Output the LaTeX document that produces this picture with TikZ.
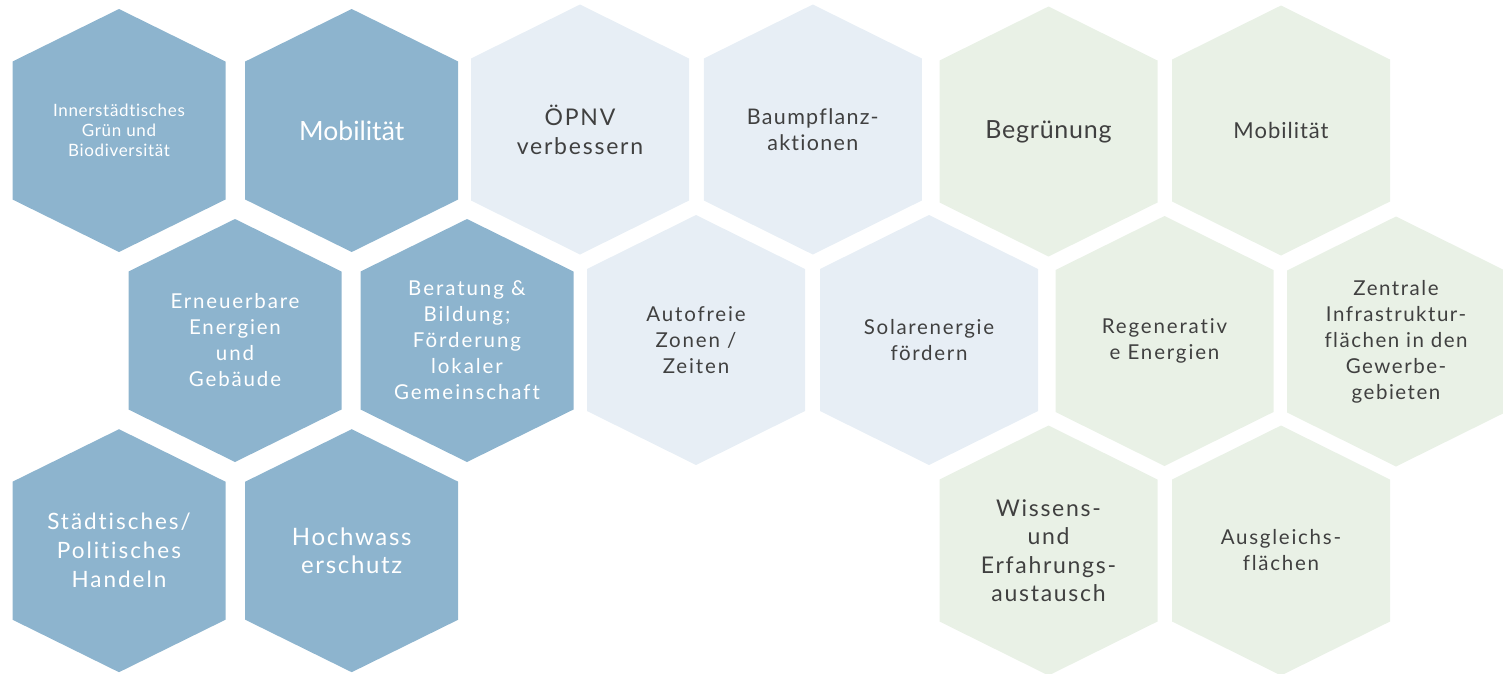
\documentclass[tikz,border=0pt]{standalone}
\usepackage{fontspec}
\setmainfont{Lato}[Ligatures=NoCommon]
\definecolor{hexblue}{HTML}{8DB4CE}
\definecolor{hexpale}{HTML}{E7EEF5}
\definecolor{hexgreen}{HTML}{E9F1E6}
\definecolor{hextext}{HTML}{404040}
\begin{document}
\begin{tikzpicture}[x=1pt, y=-1pt,
    cell/.style 2 args={inner sep=0pt, align=center,
      path picture={\fill[#1] (path picture bounding box.north)
        -- ([yshift=-#2]path picture bounding box.north east)
        -- ([yshift=#2]path picture bounding box.south east)
        -- (path picture bounding box.south)
        -- ([yshift=#2]path picture bounding box.south west)
        -- ([yshift=-#2]path picture bounding box.north west) -- cycle;}},
    bluecell/.style ={cell={hexblue}{52.5pt}, minimum width=213pt, minimum height=243pt, text=white},
    palecell/.style ={cell={hexpale}{54pt}, minimum width=218pt, minimum height=250pt, text=hextext},
    greencell/.style={cell={hexgreen}{54pt}, minimum width=218pt, minimum height=250pt, text=hextext},
    txt/.style n args={3}{font=\fontsize{#1}{#2}\selectfont\addfontfeature{LetterSpace=#3}}]
   \useasboundingbox (0,0) rectangle (1503,673);

   % blue block
   \node[bluecell, txt={17}{20.3}{4}]   (gruen)  at (119,130.5)   {Innerstädtisches\\Grün und\\Biodiversität};
   \node[bluecell, txt={26.5}{30}{0}]   (mobil)  at (351.7,130.5) {Mobilität};
   \node[bluecell, txt={20.5}{26}{9}]   (energie) at (235,340.5)  {Erneuerbare\\Energien\\und\\Gebäude};
   \node[bluecell, txt={20.5}{26}{9.5}] (beratung) at (467,340.5) {Beratung \&\\Bildung;\\Förderung\\lokaler\\Gemeinschaft};
   \node[bluecell, txt={22.5}{29}{8.7}] (politik) at (119,550.7)  {Städtisches/\\Politisches\\Handeln};
   \node[bluecell, txt={24}{28}{7}]     (hochwasser) at (351.7,550.7) {Hochwass\\erschutz};

   % pale blue block
   \node[palecell, txt={23}{29}{7.7}]   (oepnv)  at (580,129.5)   {ÖPNV\\verbessern};
   \node[palecell, txt={21.5}{26}{6}]   (baum)   at (812.8,129.5) {Baumpflanz-\\aktionen};
   \node[palecell, txt={20.5}{26}{9}]   (autofrei) at (696,340)   {Autofreie\\Zonen /\\Zeiten};
   \node[palecell, txt={20.5}{26}{8.3}] (solar)  at (929,340)     {Solarenergie\\fördern};

   % green block
   \node[greencell, txt={25}{29}{3}]    (begruen) at (1048.5,131.5) {Begrünung};
   \node[greencell, txt={22}{26}{4.5}]  (mobilg) at (1281,130.5)  {Mobilität};
   \node[greencell, txt={20.5}{26}{9}]  (regen)  at (1164.5,341)  {Regenerativ\\e Energien};
   \node[greencell, txt={20.5}{26}{7.4}] (zentral) at (1396,341.5) {Zentrale\\Infrastruktur-\\flächen in den\\Gewerbe-\\gebieten};
   \node[greencell, txt={23}{28.5}{7.4}] (wissen) at (1048.5,550.5) {Wissens-\\und\\Erfahrungs-\\austausch};
   \node[greencell, txt={20.5}{26}{8.5}] (ausgleich) at (1281,550.5) {Ausgleichs-\\flächen};
\end{tikzpicture}
\end{document}
